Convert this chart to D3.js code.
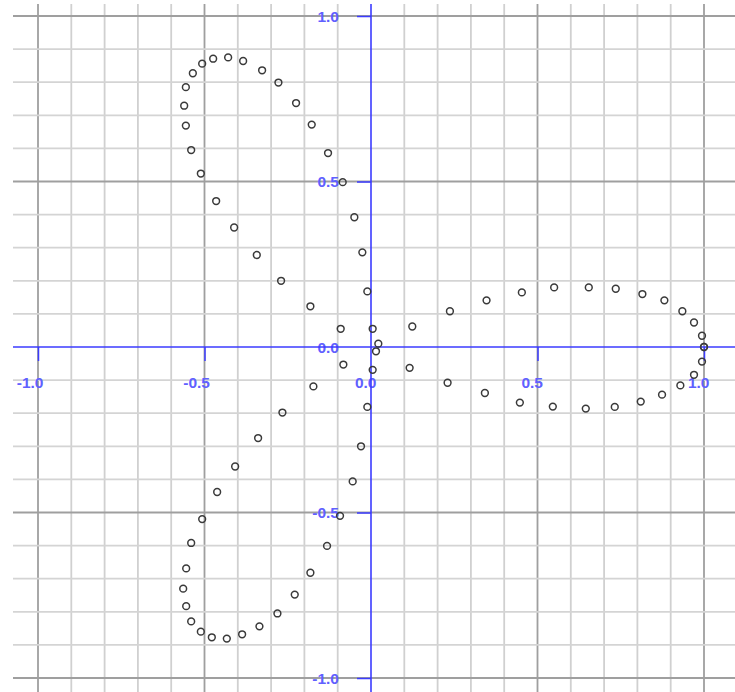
<!DOCTYPE html>
<html>

<head>
    <meta charset="utf-8">
    <script src="https://cdnjs.cloudflare.com/ajax/libs/d3/7.8.5/d3.min.js"></script>
    <title>rose points</title>
    <style>
        body { margin: 0; background: #fff; }
        .tick-label { font-family: "Liberation Sans", Arial, sans-serif; font-size: 15.5px; font-weight: bold; fill: #6060ff; }
    </style>
</head>

<body>
    <svg id="chart" width="735" height="692"></svg>
    <script>
        // point coordinates, in chart units
        var pointsX = [
            1.0, 1.0, 0.994, 0.970, 0.935, 0.881, 0.815, 0.735, 0.654, 0.550, 0.453, 0.347, 0.237, 0.124, 0.022,
            0.994, 0.970, 0.929, 0.874, 0.810, 0.732, 0.645, 0.546, 0.447, 0.342, 0.230, 0.116, 0.015,
            0.005, -0.011, -0.026, -0.050, -0.085, -0.129, -0.178, -0.225, -0.278, -0.327, -0.384, -0.429, -0.474,
            -0.507, -0.535, -0.556, -0.561, -0.556, -0.540, -0.511, -0.465, -0.411, -0.343, -0.270, -0.182, -0.091,
            -0.083, -0.173, -0.266, -0.339, -0.408, -0.462, -0.507, -0.540, -0.555, -0.564, -0.555, -0.540, -0.511,
            -0.478, -0.433, -0.387, -0.335, -0.281, -0.229, -0.182, -0.132, -0.093, -0.055, -0.030, -0.011, 0.005
        ];
        var pointsY = [
            0.0, 0.0, 0.034, 0.074, 0.108, 0.141, 0.160, 0.176, 0.180, 0.180, 0.165, 0.141, 0.108, 0.062, 0.010,
            -0.044, -0.084, -0.116, -0.144, -0.165, -0.181, -0.186, -0.180, -0.168, -0.139, -0.108, -0.063, -0.013,
            0.055, 0.168, 0.286, 0.392, 0.498, 0.586, 0.672, 0.737, 0.799, 0.836, 0.864, 0.875, 0.871,
            0.856, 0.827, 0.785, 0.729, 0.669, 0.595, 0.524, 0.441, 0.361, 0.278, 0.200, 0.123, 0.055,
            -0.053, -0.119, -0.198, -0.275, -0.361, -0.438, -0.520, -0.592, -0.669, -0.730, -0.783, -0.829, -0.860,
            -0.877, -0.881, -0.868, -0.844, -0.805, -0.748, -0.682, -0.601, -0.510, -0.406, -0.300, -0.181, -0.069
        ];
        var gridValues = d3.range(-10, 11).map(function(i) { return i / 10; });
        var tickValues = [-1.0, -0.5, 0.0, 0.5, 1.0];

        var svg = d3.select("#chart");

        var x = d3.scaleLinear().domain([-1, 1]).range([38, 704]);
        var y = d3.scaleLinear().domain([-1, 1]).range([678, 16]);

        function isMajor(v) {
            return Math.abs(Math.round(v * 2) - v * 2) < 1e-6;
        }

        // grid
        var grid = svg.append("g");
        grid.selectAll("line.v")
            .data(gridValues.filter(function(v) { return Math.abs(v) > 1e-6; }))
            .enter()
            .append("line")
            .attr("class", "v")
            .attr("x1", function(d) { return x(d); })
            .attr("x2", function(d) { return x(d); })
            .attr("y1", 4)
            .attr("y2", 692)
            .style("stroke", function(d) { return isMajor(d) ? "#9f9f9f" : "#d0d0d0"; })
            .style("stroke-width", 1.8);

        grid.selectAll("line.h")
            .data(gridValues.filter(function(v) { return Math.abs(v) > 1e-6; }))
            .enter()
            .append("line")
            .attr("class", "h")
            .attr("y1", function(d) { return y(d); })
            .attr("y2", function(d) { return y(d); })
            .attr("x1", 13)
            .attr("x2", 735)
            .style("stroke", function(d) { return isMajor(d) ? "#9f9f9f" : "#d4d4d4"; })
            .style("stroke-width", 1.8);

        // axes
        var xAxis = d3.axisBottom(x)
            .tickValues(tickValues)
            .tickSize(14)
            .tickSizeOuter(0)
            .tickFormat(function(d) { return d.toFixed(1); });

        var gx = svg.append("g")
            .attr("transform", "translate(0," + y(0) + ")")
            .call(xAxis);
        gx.select(".domain").remove();
        gx.selectAll(".tick line")
            .style("stroke", "#3b3bff")
            .style("stroke-width", 1.5)
            .filter(function(d) { return d === 0; }).remove();
        gx.selectAll(".tick text")
            .attr("class", "tick-label")
            .attr("text-anchor", "end")
            .attr("x", 5)
            .attr("y", 36)
            .attr("dy", "0.35em")
            .attr("fill", null);

        var yAxis = d3.axisLeft(y)
            .tickValues(tickValues)
            .tickSize(14)
            .tickSizeOuter(0)
            .tickFormat(function(d) { return d.toFixed(1); });

        var gy = svg.append("g")
            .attr("transform", "translate(" + x(0) + ",0)")
            .call(yAxis);
        gy.select(".domain").remove();
        gy.selectAll(".tick line")
            .style("stroke", "#3b3bff")
            .style("stroke-width", 1.5)
            .filter(function(d) { return d === 0; }).remove();
        gy.selectAll(".tick text")
            .attr("class", "tick-label")
            .attr("text-anchor", "end")
            .attr("x", -32)
            .attr("dy", "0.35em")
            .attr("fill", null);

        svg.append("line")
            .attr("x1", 13).attr("x2", 735)
            .attr("y1", y(0)).attr("y2", y(0))
            .style("stroke", "#3b3bff")
            .style("stroke-width", 1.6);
        svg.append("line")
            .attr("x1", x(0)).attr("x2", x(0))
            .attr("y1", 4).attr("y2", 692)
            .style("stroke", "#3b3bff")
            .style("stroke-width", 1.6);

        // points
        svg.append("g")
            .selectAll("circle")
            .data(d3.zip(pointsX, pointsY))
            .enter()
            .append("circle")
            .attr("cx", function(d) { return x(d[0]); })
            .attr("cy", function(d) { return y(d[1]); })
            .attr("r", 3.4)
            .style("fill", "none")
            .style("stroke", "#3a3a3a")
            .style("stroke-width", 1.5);
    </script>
</body>

</html>
